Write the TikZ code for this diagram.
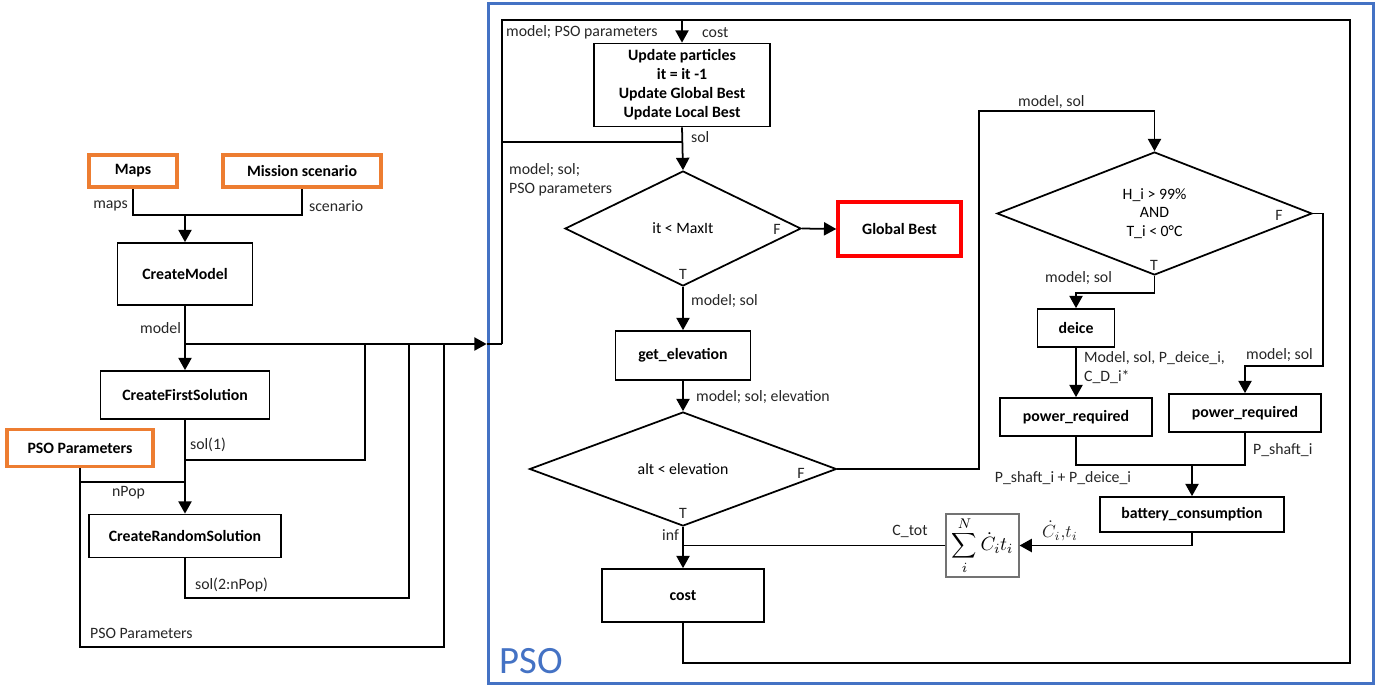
\documentclass[tikz,border=0pt]{standalone}
\usepackage{fontspec}
\setmainfont{Carlito}
\usetikzlibrary{arrows.meta,shapes.geometric}
\definecolor{psoblue}{HTML}{4472C4}
\definecolor{inorange}{HTML}{ED7D31}

\begin{document}
\begin{tikzpicture}[x=0.02cm, y=-0.02cm,
  every node/.style={font=\fontsize{9}{10.8}\selectfont},
  box/.style={draw, line width=1pt, inner sep=0pt, align=center, font=\fontsize{9}{10.8}\selectfont\bfseries},
  inbox/.style={box, draw=inorange, line width=2pt},
  diam/.style={draw, diamond, line width=1pt, inner sep=0pt, align=center},
  lbl/.style={text=black!85, inner sep=1pt},
  link/.style={line width=1pt},
  arr/.style={link, -{Triangle[length=7pt,width=7.5pt]}}]
\useasboundingbox (0,0) rectangle (1391,687);

% PSO frame
\node[draw=psoblue, line width=1.7pt, minimum width=17.72cm, minimum height=13.62cm, inner sep=0pt] (pso) at (931,343.5) {};
\node[text=psoblue, font=\fontsize{22}{26}\selectfont, inner sep=0pt, anchor=west] (psolbl) at (499,661) {PSO};

% inputs and set-up
\node[inbox, minimum width=1.76cm, minimum height=0.64cm] (maps) at (133,171) {Maps};
\node[inbox, minimum width=3.16cm, minimum height=0.64cm] (scen) at (302,171) {Mission scenario};
\node[box, minimum width=2.7cm, minimum height=1.24cm] (cmodel) at (185,274) {CreateModel};
\node[box, minimum width=3.38cm, minimum height=0.96cm] (cfirst) at (185,395) {CreateFirstSolution};
\node[inbox, minimum width=2.92cm, minimum height=0.74cm] (psopar) at (80,448) {PSO Parameters};
\node[box, minimum width=3.84cm, minimum height=0.86cm] (crand) at (185,536) {CreateRandomSolution};

\coordinate (mj) at (185,215);
\coordinate (mb) at (185,344);
\coordinate (s1) at (185,460);
\coordinate (np) at (185,482);
\coordinate (s2) at (185,598);
\coordinate (pb) at (80,647);
\coordinate (j1) at (365,344);
\coordinate (j2) at (409,344);
\coordinate (j3) at (444,344);
\coordinate (hub) at (502,344);

\draw[link] (maps.south) |- (mj) -| (scen.south);
\draw[arr] (mj) -- (cmodel.north);
\draw[arr] (cmodel.south) -- (cfirst.north);
\draw[arr] (mb) -- (pso.west |- mb);
\draw[link] (pso.west |- mb) -- (hub);
\draw[arr] (cfirst.south) -- (crand.north);
\draw[link] (s1) -| (j1);
\draw[link] (psopar.south) |- (np);
\draw[link] (crand.south) -- (s2) -| (j2);
\draw[link] (psopar.south) -- (pb) -| (j3);

\node[lbl, anchor=east] at (130,206) {maps};
\node[lbl, anchor=west] at (307,206) {scenario};
\node[lbl, anchor=east] at (183,328) {model};
\node[lbl, anchor=west] at (188,445) {sol(1)};
\node[lbl, anchor=west] at (110,493) {nPop};
\node[lbl, anchor=west] at (193,585) {sol(2:nPop)};
\node[lbl, anchor=west] at (88,633) {PSO Parameters};

% PSO loop
\node[box, minimum width=3.52cm, minimum height=1.66cm] (upd) at (682,85) {Update particles\\it = it -1\\Update Global Best\\Update Local Best};
\node[diam, aspect=2.05, minimum width=4.72cm, minimum height=2.3cm] (d1) at (683,228.5) {it < MaxIt};
\node[box, draw=red, line width=2pt, minimum width=2.46cm, minimum height=1.08cm] (gbest) at (899.5,229) {Global Best};
\node[box, minimum width=2.7cm, minimum height=0.98cm] (elev) at (683,355.5) {get\_elevation};
\node[diam, aspect=2.7, minimum width=6.14cm, minimum height=2.28cm] (d2) at (683,469) {alt < elevation};
\node[box, minimum width=3.24cm, minimum height=1.06cm] (cost) at (683,595.5) {cost};
\node[draw=black!55, line width=0.6pt, minimum width=1.46cm, minimum height=1.26cm, inner sep=0pt, font=\fontsize{11}{13}\selectfont] (sum) at (982.5,545.5) {$\displaystyle\sum_i^N \dot{C}_i t_i$};

\coordinate (tl) at (502,20);
\coordinate (br) at (1350,663);
\coordinate (ml) at (502,142);

\draw[link] (cost.south) |- (br) |- (tl) -- (hub);
\draw[arr] (upd.north |- tl) -- (upd.north);
\draw[arr] (upd.south) -- (d1.north);
\draw[link] (ml) -- (upd.south |- ml);
\draw[arr] (d1.east) -- (gbest.west);
\draw[arr] (d1.south) -- (elev.north);
\draw[arr] (elev.south) -- (d2.north);
\draw[arr] (d2.south) -- (cost.north);
\draw[link] (sum.west) -- (d2.south |- sum.west);

\node[lbl, anchor=west] at (504,32) {model; PSO parameters};
\node[lbl, anchor=west] at (700,33) {cost};
\node[lbl, anchor=west] at (689,137) {sol};
\node[lbl, anchor=west, align=left] at (507,180) {model; sol;\\PSO parameters};
\node[lbl] at (777,229) {F};
\node[lbl] at (683,274) {T};
\node[lbl, anchor=west] at (689,301) {model; sol};
\node[lbl, anchor=west] at (694,397) {model; sol; elevation};
\node[lbl] at (801,473) {F};
\node[lbl] at (683,513) {T};
\node[lbl, anchor=east] at (681,535) {inf};
\node[lbl] at (910,531) {C\_tot};

% icing branch
\node[diam, aspect=2.56, minimum width=6.3cm, minimum height=2.46cm, font=\fontsize{9}{10.5}\selectfont] (d3) at (1154.5,213.5) {H\_i > 99\%\\AND\\T\_i < 0°C};
\node[box, minimum width=1.54cm, minimum height=0.76cm] (deice) at (1076,328) {deice};
\node[box, minimum width=3.04cm, minimum height=0.76cm] (pr1) at (1076,417) {power\_required};
\node[box, minimum width=3.04cm, minimum height=0.76cm] (pr2) at (1245,413) {power\_required};
\node[box, minimum width=3.68cm, minimum height=0.7cm] (batt) at (1192,514.5) {battery\_consumption};

\coordinate (fr) at (979,111);
\coordinate (fb) at (1323,366);
\coordinate (mg) at (1192,465);

\draw[arr] (d2.east) -| (fr) -| (d3.north);
\draw[arr] (d3.south) -- ++(0,17) -| (deice.north);
\draw[arr] (deice.south) -- (pr1.north);
\draw[arr] (d3.east) -| (fb) -| (pr2.north);
\draw[link] (pr1.south) |- (mg) -| (pr2.south);
\draw[arr] (mg) -- (batt.north);
\draw[arr] (batt.south) |- (sum.east);

\node[lbl, anchor=west] at (1016,102) {model, sol};
\node[lbl] at (1279,215) {F};
\node[lbl] at (1154,265) {T};
\node[lbl, anchor=east] at (1114,278) {model; sol};
\node[lbl, anchor=west, align=left] at (1082,368) {Model, sol, P\_deice\_i,\\C\_D\_i*};
\node[lbl, anchor=west] at (1244,355) {model; sol};
\node[lbl, anchor=west] at (1251,450) {P\_shaft\_i};
\node[lbl] at (1063,478) {P\_shaft\_i + P\_deice\_i};
\node[lbl, anchor=west, font=\fontsize{10}{12}\selectfont] at (1040,531) {$\dot{C}_i{,}t_i$};
\end{tikzpicture}
\end{document}
